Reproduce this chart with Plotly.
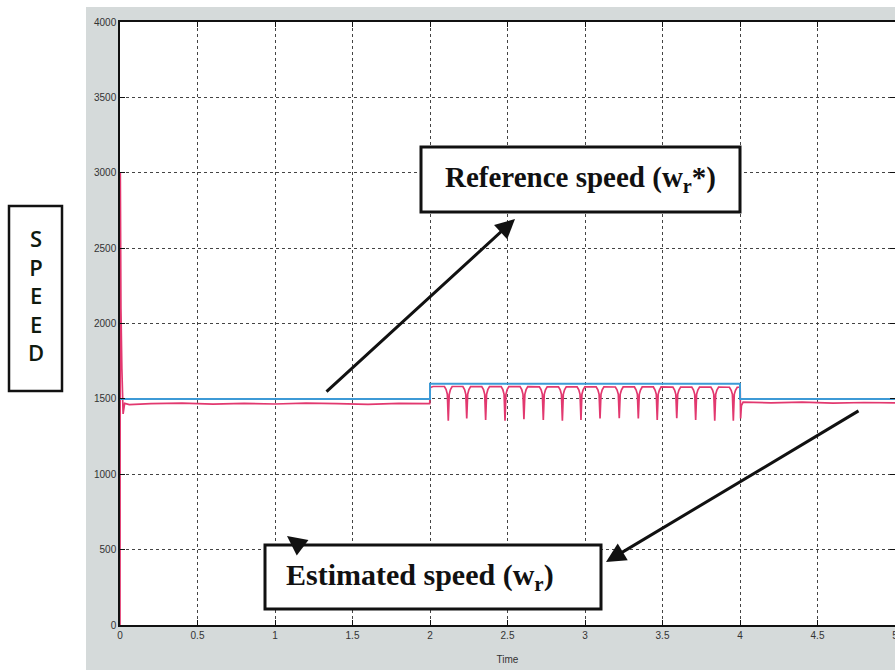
import plotly.graph_objects as go

# ---------------- data ----------------
REF_TIME = [0.0, 2.0, 2.0, 4.0, 4.0, 5.0]
REF_SPEED = [1500, 1500, 1600, 1600, 1500, 1500]

EST_TIME = [
    0.0, 0.002, 0.006, 0.012, 0.02, 0.03, 0.06, 0.2, 0.4, 0.6, 0.8, 1.0, 1.2, 1.4, 1.6, 1.8, 1.998,
    2.002, 2.02,
    2.093, 2.104, 2.112, 2.118, 2.124, 2.132, 2.143,
    2.212, 2.223, 2.231, 2.237, 2.243, 2.251, 2.262,
    2.334, 2.345, 2.353, 2.359, 2.365, 2.373, 2.384,
    2.459, 2.470, 2.478, 2.484, 2.490, 2.498, 2.509,
    2.581, 2.592, 2.600, 2.606, 2.612, 2.620, 2.631,
    2.706, 2.717, 2.725, 2.731, 2.737, 2.745, 2.756,
    2.829, 2.840, 2.848, 2.854, 2.860, 2.868, 2.879,
    2.949, 2.960, 2.968, 2.974, 2.980, 2.988, 2.999,
    3.072, 3.083, 3.091, 3.097, 3.103, 3.111, 3.122,
    3.196, 3.207, 3.215, 3.221, 3.227, 3.235, 3.246,
    3.319, 3.330, 3.338, 3.344, 3.350, 3.358, 3.369,
    3.441, 3.452, 3.460, 3.466, 3.472, 3.480, 3.491,
    3.567, 3.578, 3.586, 3.592, 3.598, 3.606, 3.617,
    3.689, 3.700, 3.708, 3.714, 3.720, 3.728, 3.739,
    3.812, 3.823, 3.831, 3.837, 3.843, 3.851, 3.862,
    3.932, 3.943, 3.951, 3.957, 3.963, 3.971, 3.982,
    3.996, 4.001, 4.004, 4.009, 4.02, 4.2, 4.4, 4.6, 4.8, 5.0,
]
EST_SPEED = [
    0, 3000, 2100, 1700, 1400, 1470, 1462, 1468, 1472, 1465, 1470, 1466, 1472, 1468, 1464, 1470, 1468,
    1575, 1582,
    1582, 1562, 1530, 1355, 1530, 1562, 1582,
    1582, 1562, 1530, 1370, 1530, 1562, 1582,
    1581, 1561, 1530, 1360, 1530, 1561, 1581,
    1581, 1561, 1530, 1355, 1530, 1561, 1581,
    1581, 1561, 1530, 1365, 1530, 1561, 1581,
    1580, 1560, 1530, 1360, 1530, 1560, 1580,
    1580, 1560, 1530, 1355, 1530, 1560, 1580,
    1580, 1560, 1530, 1360, 1530, 1560, 1580,
    1580, 1560, 1530, 1370, 1530, 1560, 1580,
    1579, 1559, 1530, 1372, 1530, 1559, 1579,
    1579, 1559, 1530, 1370, 1530, 1559, 1579,
    1579, 1559, 1530, 1360, 1530, 1559, 1579,
    1578, 1558, 1530, 1372, 1530, 1558, 1578,
    1578, 1558, 1530, 1360, 1530, 1558, 1578,
    1578, 1558, 1530, 1355, 1530, 1558, 1578,
    1577, 1557, 1530, 1355, 1530, 1557, 1577,
    1577, 1577, 1370, 1455, 1478, 1474, 1478, 1472, 1476, 1474,
]

X_TICKS = [0, 0.5, 1, 1.5, 2, 2.5, 3, 3.5, 4, 4.5, 5]
X_TICK_LABELS = ["0", "0.5", "1", "1.5", "2", "2.5", "3", "3.5", "4", "4.5", "5"]
Y_TICKS = [0, 500, 1000, 1500, 2000, 2500, 3000, 3500, 4000]
Y_TICK_LABELS = ["0", "500", "1000", "1500", "2000", "2500", "3000", "3500", "4000"]

# ---------------- layout geometry (pixels) ----------------
W, H = 895, 670
L, R, T, B = 120, 0, 22, 45
PW, PH = W - L - R, H - T - B


def xp(px):
    return (px - L) / PW


def yp(py):
    return (H - B - py) / PH


fig = go.Figure()
fig.add_trace(go.Scatter(x=EST_TIME, y=EST_SPEED, mode="lines",
                         line=dict(color="#e2386f", width=1.7), showlegend=False))
fig.add_trace(go.Scatter(x=REF_TIME, y=REF_SPEED, mode="lines",
                         line=dict(color="#3d9ad6", width=2), showlegend=False))

shapes = [
    # grey figure background
    dict(type="rect", xref="paper", yref="paper", x0=xp(86), x1=xp(905), y0=yp(675), y1=yp(7),
         fillcolor="#d5dada", line=dict(width=0), layer="below"),
    # white axes area
    dict(type="rect", xref="paper", yref="paper", x0=0, x1=1, y0=0, y1=1,
         fillcolor="white", line=dict(width=0), layer="below"),
    # SPEED box
    dict(type="rect", xref="paper", yref="paper", x0=xp(9), x1=xp(62), y0=yp(391), y1=yp(206),
         fillcolor="white", line=dict(color="#111", width=2.5), layer="above"),
    # reference box
    dict(type="rect", xref="paper", yref="paper", x0=xp(421), x1=xp(740), y0=yp(212), y1=yp(147),
         fillcolor="white", line=dict(color="#111", width=3), layer="above"),
    # estimated box
    dict(type="rect", xref="paper", yref="paper", x0=xp(265), x1=xp(601), y0=yp(609), y1=yp(545),
         fillcolor="white", line=dict(color="#111", width=3), layer="above"),
]

annotations = [
    dict(xref="paper", yref="paper", x=xp(36), y=yp(295), text="S<br>P<br>E<br>E<br>D",
         showarrow=False, font=dict(family="Open Sans", size=22, color="#0f1a0f", weight=600),
         xanchor="center", yanchor="middle"),
    dict(xref="paper", yref="paper", x=xp(580), y=yp(179),
         text="<b>Reference speed (w<sub>r</sub>*)</b>", showarrow=False,
         font=dict(family="Liberation Serif", size=29, color="#111"),
         xanchor="center", yanchor="middle"),
    dict(xref="paper", yref="paper", x=xp(420), y=yp(577),
         text="<b>Estimated speed (w<sub>r</sub>)</b>", showarrow=False,
         font=dict(family="Liberation Serif", size=30, color="#111"),
         xanchor="center", yanchor="middle"),
    # arrows
    dict(xref="paper", yref="paper", x=xp(515), y=yp(219), ax=-190, ay=174, text="",
         showarrow=True, arrowhead=2, arrowsize=1.3, arrowwidth=3, arrowcolor="#111"),
    dict(xref="paper", yref="paper", x=xp(606), y=yp(562), ax=254, ay=-152, text="",
         showarrow=True, arrowhead=2, arrowsize=1.3, arrowwidth=3, arrowcolor="#111"),
    dict(xref="paper", yref="paper", x=xp(287), y=yp(536), ax=12, ay=9, text="",
         showarrow=True, arrowhead=2, arrowsize=1.3, arrowwidth=3, arrowcolor="#111"),
]

tickfont = dict(family="Liberation Sans Narrow, Liberation Sans, Arial", size=10, color="#333")

fig.update_layout(
    width=W, height=H,
    margin=dict(l=L, r=R, t=T, b=B, pad=0),
    paper_bgcolor="white", plot_bgcolor="rgba(0,0,0,0)",
    shapes=shapes, annotations=annotations,
    showlegend=False,
    xaxis=dict(range=[0, 5], tickvals=X_TICKS, ticktext=X_TICK_LABELS, tickfont=tickfont,
               ticklabeloverflow="allow",
               showgrid=True, gridcolor="#444", griddash="dot", gridwidth=1,
               showline=True, linecolor="#111", linewidth=1.5, mirror="ticks",
               ticks="inside", ticklen=5, tickcolor="#111", zeroline=False, automargin=False,
               title=dict(text="Time", font=dict(family="Liberation Sans Narrow, Liberation Sans", size=10, color="#333"),
                          standoff=16)),
    yaxis=dict(range=[0, 4000], tickvals=Y_TICKS, ticktext=Y_TICK_LABELS, tickfont=tickfont,
               showgrid=True, gridcolor="#444", griddash="dot", gridwidth=1,
               showline=True, linecolor="#111", linewidth=1.5, mirror="ticks",
               ticks="inside", ticklen=5, tickcolor="#111", zeroline=False, automargin=False),
)

fig.write_html("out.html", config={"displayModeBar": False},
               post_script="document.body.style.margin='0';")
